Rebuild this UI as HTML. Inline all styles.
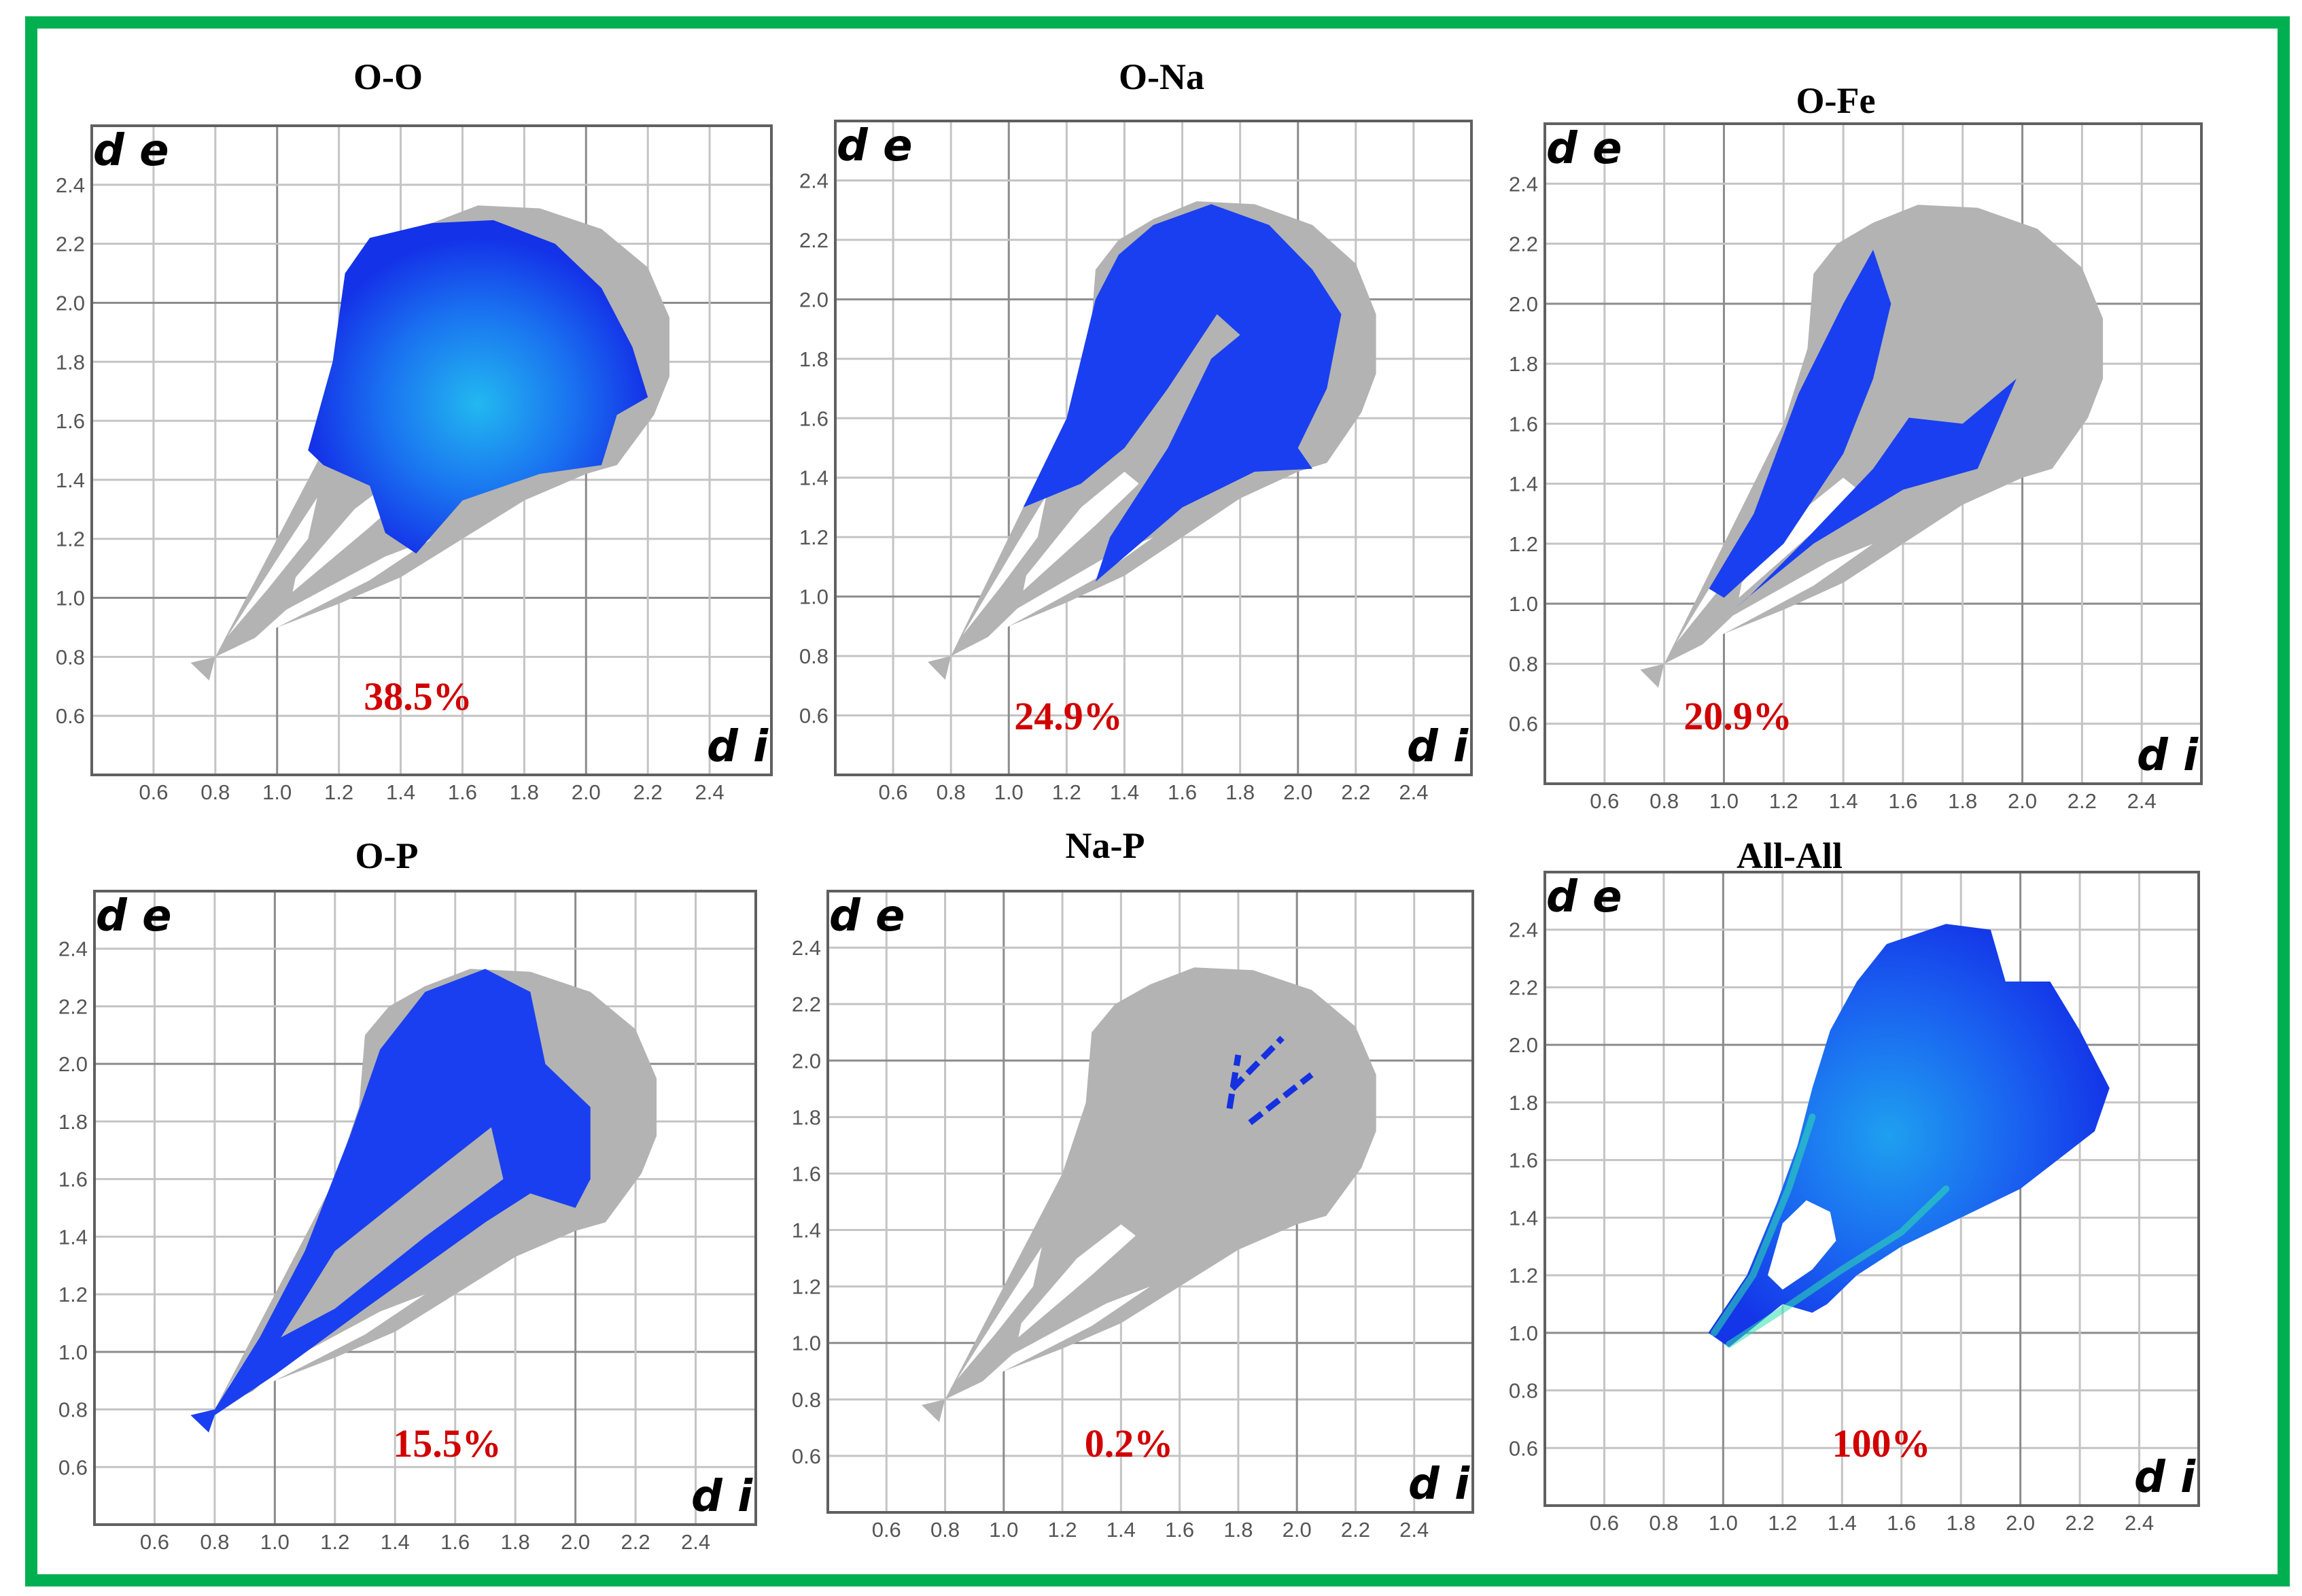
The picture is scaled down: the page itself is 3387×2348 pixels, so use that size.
<!DOCTYPE html>
<html><head><meta charset="utf-8"><style>
html,body{margin:0;padding:0;background:#fff}
svg{display:block}
</style></head><body>
<svg id="fig" width="3387" height="2348" viewBox="0 0 3387 2348" xmlns="http://www.w3.org/2000/svg">
<rect x="0" y="0" width="3387" height="2348" fill="#fff"/>
<rect x="46" y="33" width="3314" height="2292" fill="none" stroke="#00b050" stroke-width="18"/>
<defs>
<radialGradient id="cyanCore" cx="0.5" cy="0.55" r="0.5"><stop offset="0" stop-color="#22b8f0"/><stop offset="0.55" stop-color="#1a73f0"/><stop offset="1" stop-color="#1432e8"/></radialGradient>
<radialGradient id="allGrad" cx="0.45" cy="0.5" r="0.55"><stop offset="0" stop-color="#1ea0f0"/><stop offset="0.6" stop-color="#1a60f0"/><stop offset="1" stop-color="#1436e8"/></radialGradient>
</defs>
<g id="panels"></g>
</svg>
<script>
// ---- data (di, de coordinates) ----
const panelTitles = ["O-O","O-Na","O-Fe","O-P","Na-P","All-All"];
const panelPercents = ["38.5%","24.9%","20.9%","15.5%","0.2%","100%"];
const tickValues = [0.6,0.8,1.0,1.2,1.4,1.6,1.8,2.0,2.2,2.4];
const tickLabels = ["0.6","0.8","1.0","1.2","1.4","1.6","1.8","2.0","2.2","2.4"];
const axisMin = 0.4, axisMax = 2.6;
const grayOuter = [[0.72,0.78],[0.80,0.80],[0.9,1.0],[1.0,1.2],[1.1,1.4],[1.2,1.6],[1.28,1.85],[1.3,2.1],[1.38,2.2],[1.5,2.27],[1.65,2.33],[1.85,2.32],[2.05,2.25],[2.2,2.12],[2.27,1.95],[2.27,1.75],[2.22,1.62],[2.1,1.45],[2.0,1.42],[1.8,1.33],[1.6,1.2],[1.4,1.07],[1.2,0.98],[1.0,0.9],[0.8,0.80],[0.78,0.72]];
const holeA = [[0.84,0.87],[1.03,1.18],[1.13,1.34],[1.1,1.2],[0.97,1.03]];
const holeB = [[1.06,1.07],[1.25,1.3],[1.4,1.42],[1.45,1.38],[1.3,1.24],[1.05,1.02]];
const holeC = [[0.86,0.80],[1.03,0.96],[1.35,1.14],[1.5,1.2],[1.3,1.06],[1.0,0.9]];
const blueOO = [[1.1,1.5],[1.18,1.8],[1.22,2.1],[1.3,2.22],[1.5,2.27],[1.7,2.28],[1.9,2.2],[2.05,2.05],[2.15,1.85],[2.2,1.68],[2.1,1.62],[2.05,1.45],[1.85,1.42],[1.6,1.33],[1.45,1.15],[1.35,1.22],[1.3,1.38],[1.15,1.45]];
const blueONa = [[1.05,1.3],[1.2,1.6],[1.3,2.0],[1.38,2.15],[1.5,2.25],[1.7,2.32],[1.9,2.25],[2.05,2.1],[2.15,1.95],[2.1,1.7],[2.0,1.5],[2.05,1.43],[1.85,1.42],[1.6,1.3],[1.3,1.05],[1.35,1.2],[1.55,1.5],[1.7,1.8],[1.8,1.88],[1.72,1.95],[1.55,1.7],[1.4,1.5],[1.25,1.38]];
const blueOFe1 = [[0.95,1.05],[1.1,1.3],[1.25,1.7],[1.4,2.0],[1.5,2.18],[1.56,2.0],[1.5,1.75],[1.4,1.5],[1.2,1.2],[1.0,1.02]];
const blueOFe2 = [[1.03,0.98],[1.3,1.2],[1.6,1.38],[1.85,1.45],[1.98,1.75],[1.8,1.6],[1.62,1.62],[1.5,1.45],[1.28,1.22],[1.08,1.02]];
const blueOP = [[0.72,0.78],[0.8,0.8],[0.95,1.05],[1.1,1.35],[1.25,1.75],[1.35,2.05],[1.5,2.25],[1.7,2.33],[1.85,2.25],[1.9,2.0],[2.05,1.85],[2.05,1.6],[2.0,1.5],[1.85,1.55],[1.7,1.45],[1.5,1.3],[1.3,1.15],[1.0,0.92],[0.8,0.78],[0.78,0.72]];
const grayOPcore = [[1.02,1.05],[1.2,1.35],[1.5,1.6],[1.72,1.78],[1.76,1.6],[1.5,1.4],[1.2,1.15]];
const naPStreak1 = [[1.77,1.83],[1.8,2.02]];
const naPStreak2 = [[1.78,1.9],[1.95,2.08]];
const naPStreak3 = [[1.84,1.78],[2.05,1.95]];
const blueAll = [[0.95,1.0],[1.08,1.2],[1.18,1.45],[1.25,1.65],[1.3,1.85],[1.36,2.05],[1.45,2.22],[1.55,2.35],[1.75,2.42],[1.9,2.4],[1.95,2.22],[2.1,2.22],[2.2,2.05],[2.3,1.85],[2.25,1.7],[2.0,1.5],[1.8,1.4],[1.6,1.3],[1.45,1.2],[1.35,1.1],[1.3,1.07],[1.2,1.1],[1.02,0.95]];
const holeAll = [[1.15,1.2],[1.2,1.38],[1.28,1.46],[1.36,1.42],[1.38,1.32],[1.3,1.22],[1.2,1.15]];
const allStreak1 = [[0.97,1.0],[1.1,1.2],[1.22,1.5],[1.3,1.75]];
const allStreak2 = [[1.02,0.96],[1.2,1.08],[1.4,1.22],[1.6,1.35],[1.75,1.5]];

// ---- layout ----
const boxes = [[135,185,1135,1140],[1229,178,2165,1140],[2273,182,3239,1153],[139,1311,1112,2243],[1218,1311,2167,2225],[2273,1283,3235,2215]];
const titlePos = [[571,113],[1709,113],[2701,148],[569,1259],[1626,1244],[2633,1259]];
const pctPos = [[615,1024],[1572,1053],[2557,1053],[658,2123],[1661,2123],[2768,2123]];

const NS="http://www.w3.org/2000/svg";
const root=document.getElementById('panels');
function mk(tag,attrs,parent){const e=document.createElementNS(NS,tag);for(const k in attrs)e.setAttribute(k,attrs[k]);(parent||root).appendChild(e);return e;}

boxes.forEach((b,i)=>{
  const [x0,y0,x1,y1]=b;
  const sx=v=>x0+(v-axisMin)/(axisMax-axisMin)*(x1-x0);
  const sy=v=>y1-(v-axisMin)/(axisMax-axisMin)*(y1-y0);
  const pts=arr=>arr.map(p=>sx(p[0]).toFixed(1)+','+sy(p[1]).toFixed(1)).join(' ');
  const g=mk('g',{});
  
  
  const cp=mk('clipPath',{id:'clip'+i},g);
  mk('rect',{x:x0,y:y0,width:x1-x0,height:y1-y0},cp);
  tickValues.forEach((v,k)=>{
    const dark=(v===1.0||v===2.0);
    const gx=mk('line',{x1:sx(v),x2:sx(v),y1:y0,y2:y1,stroke:dark?'#8c8c8c':'#c4c4c4','stroke-width':3},g);
    
    
    const gy=mk('line',{x1:x0,x2:x1,y1:sy(v),y2:sy(v),stroke:dark?'#8c8c8c':'#c4c4c4','stroke-width':3},g);
    
    
    const tx=mk('text',{x:sx(v),y:y1+36,'text-anchor':'middle','font-family':'Liberation Sans, sans-serif','font-size':31,fill:'#555'},g);
    tx.textContent=tickLabels[k];
    
    
    const ty=mk('text',{x:x0-10,y:sy(v)+11,'text-anchor':'end','font-family':'Liberation Sans, sans-serif','font-size':31,fill:'#555'},g);
    ty.textContent=tickLabels[k];
    
    
  });
  const d=mk('g',{'clip-path':'url(#clip'+i+')'},g);
  if(i!==5){
    const gr=mk('polygon',{points:pts(grayOuter),fill:'#b3b3b3'},d);
    
    
    [holeA,holeB,holeC].forEach(h=>{const hp=mk('polygon',{points:pts(h),fill:'#fff'},d);});
  }
  const blue=(arr,fill)=>{const p=mk('polygon',{points:pts(arr),fill:fill},d);return p;};
  if(i===0) blue(blueOO,'url(#cyanCore)');
  if(i===1) blue(blueONa,'#1a3ff0');
  if(i===2){blue(blueOFe1,'#1a3ff0');blue(blueOFe2,'#1a3ff0');}
  if(i===3){blue(blueOP,'#1a3ff0');const c=mk('polygon',{points:pts(grayOPcore),fill:'#b3b3b3'},d);}
  if(i===4){[naPStreak1,naPStreak2,naPStreak3].forEach(s=>{const l=mk('line',{x1:sx(s[0][0]),y1:sy(s[0][1]),x2:sx(s[1][0]),y2:sy(s[1][1]),stroke:'#1430e0','stroke-width':9,'stroke-dasharray':'22 10'},d);});}
  if(i===5){
    blue(blueAll,'url(#allGrad)');
    [allStreak1,allStreak2].forEach(s=>{const l=mk('polyline',{points:pts(s),fill:'none',stroke:'#30e0b0','stroke-width':10,'stroke-linecap':'round','opacity':0.55},d);});
    const h=mk('polygon',{points:pts(holeAll),fill:'#fff'},d);
  }
  const de=mk('text',{x:x0+2,y:y0+58,'font-family':'DejaVu Sans, sans-serif','font-weight':'bold','font-style':'italic','font-size':64,fill:'#000'},d);
  de.textContent='d e';
  
  
  const di=mk('text',{x:x1-95,y:y1-20,'font-family':'DejaVu Sans, sans-serif','font-weight':'bold','font-style':'italic','font-size':64,fill:'#000'},d);
  di.textContent='d i';
  
  
  const fr=mk('rect',{x:x0,y:y0,width:x1-x0,height:y1-y0,fill:'none',stroke:'#606060','stroke-width':4},g);
  
  
  const t=mk('text',{x:titlePos[i][0],y:titlePos[i][1]+18,'text-anchor':'middle','font-family':'Liberation Serif, serif','font-weight':'bold','font-size':54,fill:'#000'},g);
  t.textContent=panelTitles[i];
  
  
  const pc=mk('text',{x:pctPos[i][0],y:pctPos[i][1]+20,'text-anchor':'middle','font-family':'Liberation Serif, serif','font-weight':'bold','font-size':58,fill:'#d00000'},g);
  pc.textContent=panelPercents[i];
  
  
});
</script>
</body></html>
